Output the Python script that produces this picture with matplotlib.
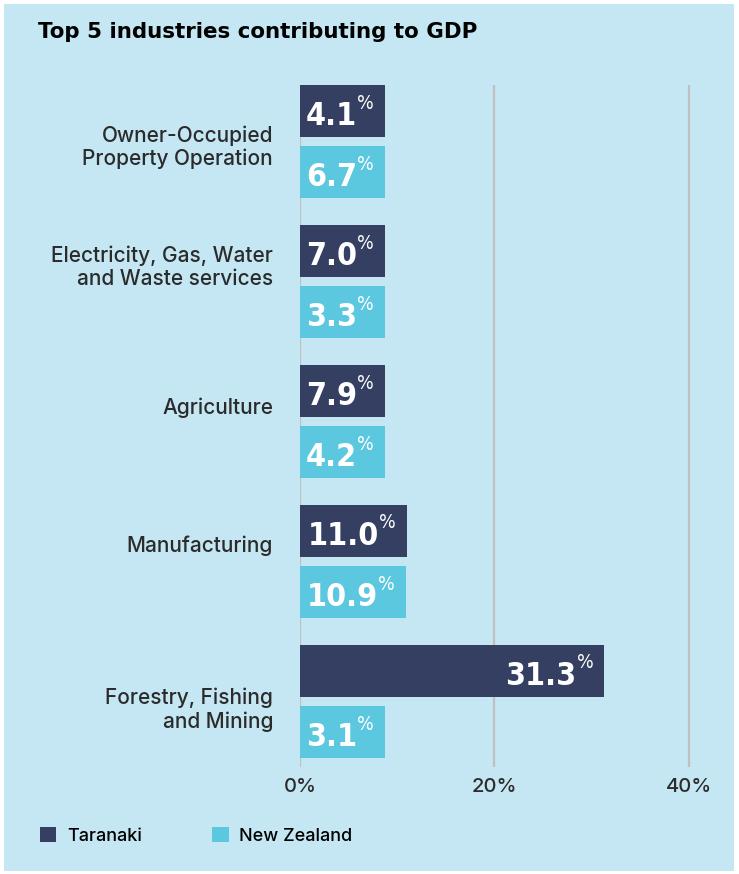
import matplotlib.pyplot as plt
from matplotlib.patches import Rectangle, Patch

# data
categories = [
    "Owner-Occupied\nProperty Operation",
    "Electricity, Gas, Water\nand Waste services",
    "Agriculture",
    "Manufacturing",
    "Forestry, Fishing\nand Mining",
]
taranaki = [4.1, 7.0, 7.9, 11.0, 31.3]
new_zealand = [6.7, 3.3, 4.2, 10.9, 3.1]
x_ticks = [0, 20, 40]
x_tick_labels = ["0%", "20%", "40%"]

# layout: small vertical nudges of category labels (as in the original)
label_dy = [0.04, -0.10, -0.10, -0.11, 0.06]

BG = "#c4e7f3"
NAVY = "#343f62"
CYAN = "#5bc8e0"
TEXT = "#2b2b2b"
FONT = "Inter"

W, H = 739, 874
fig = plt.figure(figsize=(W / 100, H / 100), dpi=100, facecolor="white")
fig.patches.append(Rectangle((4 / W, 3 / H), 730 / W, 867 / H,
                             transform=fig.transFigure, facecolor=BG,
                             edgecolor="none", zorder=-10))

ax = fig.add_axes([300 / W, 1 - 767 / H, 398.7 / W, (767 - 85) / H])
ax.set_facecolor("none")
ax.set_xlim(0, 41)
ax.set_ylim(4.468, -0.404)
for s in ax.spines.values():
    s.set_visible(False)

ax.set_xticks(x_ticks)
ax.set_xticklabels(x_tick_labels, fontsize=14.5, color=TEXT, family=FONT,
                   fontweight="medium")
ax.tick_params(axis="x", length=0, pad=8)
ax.set_yticks([])
ax.grid(axis="x", color="#c0c0c0", lw=1.6)
ax.set_axisbelow(True)

off = 0.218
bh = 0.371
fig.canvas.draw()
renderer = fig.canvas.get_renderer()
px = ax.transData.transform((1, 0))[0] - ax.transData.transform((0, 0))[0]
pad_r, pad_l = 11, 6

for i, cat in enumerate(categories):
    ax.text(-27 / px, i + label_dy[i], cat, ha="right", va="center", fontsize=15,
            color=TEXT, family=FONT, fontweight="medium", linespacing=1.2,
            clip_on=False)
    for val, y, col in ((taranaki[i], i - off, NAVY), (new_zealand[i], i + off, CYAN)):
        t_num = ax.text(0, y + 0.1, f"{val:.1f}", ha="right", va="baseline",
                        fontsize=23, color="white", family="DejaVu Sans",
                        fontstretch="condensed", fontweight="bold", zorder=4)
        t_pct = ax.text(0, y - 0.125, "%", ha="right", va="top", fontsize=14,
                        color="white", family="DejaVu Sans",
                        fontstretch="condensed", zorder=4)
        w_num = t_num.get_window_extent(renderer).width
        w_pct = t_pct.get_window_extent(renderer).width
        length = max(val, (w_num + w_pct + pad_r + pad_l) / px)
        ax.barh(y, length, height=bh, color=col, zorder=3)
        x_end = length - pad_r / px
        t_pct.set_x(x_end)
        t_num.set_x(x_end - w_pct / px)

fig.text(38 / W, 1 - 38 / H, "Top 5 industries contributing to GDP",
         fontsize=15.4, fontweight="bold", family="DejaVu Sans", color="black",
         va="baseline")

handles = [Patch(facecolor=NAVY, label="Taranaki"),
           Patch(facecolor=CYAN, label="New Zealand")]
fig.legend(handles=handles, loc="center left", bbox_to_anchor=(40 / W, 1 - 836 / H),
           ncol=2, frameon=False,
           prop={"family": FONT, "size": 13, "weight": "medium"},
           handlelength=0.9, handleheight=0.9, handletextpad=0.6,
           columnspacing=3.9, borderpad=0, borderaxespad=0)

fig.savefig("out.png", dpi=100, facecolor="white")
